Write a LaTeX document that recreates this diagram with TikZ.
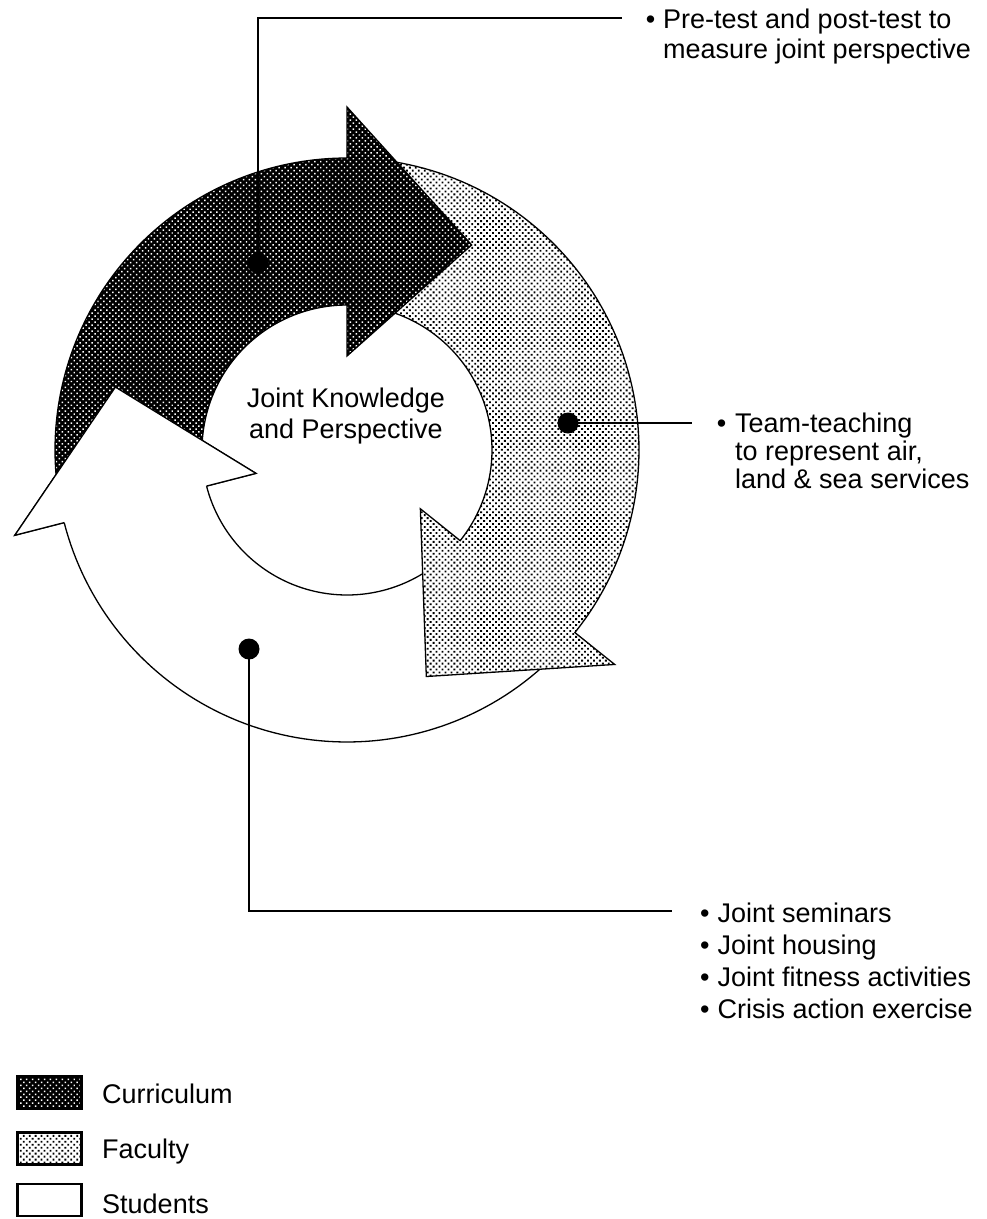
\documentclass[tikz,border=0pt]{standalone}
\usepackage{fontspec}
\setmainfont{Liberation Sans}
\usetikzlibrary{patterns.meta}
\tikzset{
  curpat/.style={preaction={fill=black}, pattern={Dots[distance=4.2bp,angle=45,radius=1.05bp]}, pattern color=white},
  facpat/.style={preaction={fill=white}, pattern={Dots[distance=4.2bp,angle=45,radius=1.3bp]}, pattern color=black},
  stupat/.style={fill=white},
  arrowline/.style={draw=black, line width=1.3bp, line join=miter},
  leader/.style={draw=black, line width=2.4bp},
  pinpoint/.style={circle, fill=black, inner sep=0pt, minimum size=21bp},
  legendbox/.style={draw=black, line width=2.6bp, minimum width=64bp, minimum height=32bp, inner sep=0pt},
  txt/.style={anchor=base west, inner sep=0pt},
}
\begin{document}
\begin{tikzpicture}[x=1bp,y=-1bp,font=\fontsize{27bp}{31bp}\selectfont]
\useasboundingbox (0,0) rectangle (987,1219);
\coordinate (C) at (347,450);
% Students arrow (white)
\path[stupat, arrowline]
  plot[domain=45:165.6,samples=80] ({347+292*cos(\x)},{450+292*sin(\x)})
  -- ({347+343*cos(165.6)},{450+343*sin(165.6)})
  -- ({347+240*cos(195.2)},{450+240*sin(195.2)})
  -- ({347+94*cos(165.6)},{450+94*sin(165.6)})
  -- plot[domain=165.6:45,samples=80] ({347+145*cos(\x)},{450+145*sin(\x)})
  -- cycle;
% Faculty arrow (light dots)
\path[facpat, arrowline]
  plot[domain=276:398.7,samples=80] ({347+292*cos(\x)},{450+292*sin(\x)})
  -- ({347+343*cos(398.7)},{450+343*sin(398.7)})
  -- ({347+240*cos(430.7)},{450+240*sin(430.7)})
  -- ({347+94*cos(398.7)},{450+94*sin(398.7)})
  -- plot[domain=398.7:276,samples=80] ({347+145*cos(\x)},{450+145*sin(\x)})
  -- cycle;
% Curriculum arrow (dark)
\path[curpat, arrowline]
  plot[domain=170:270,samples=80] ({347+292*cos(\x)},{450+292*sin(\x)})
  -- ({347+343*cos(270)},{450+343*sin(270)})
  -- ({347+240*cos(301.3)},{450+240*sin(301.3)})
  -- ({347+94*cos(270)},{450+94*sin(270)})
  -- plot[domain=270:170,samples=80] ({347+145*cos(\x)},{450+145*sin(\x)})
  -- cycle;
% Students head on top of curriculum tail
\fill[white] ({347+343*cos(165.6)},{450+343*sin(165.6)})
  -- ({347+240*cos(195.2)},{450+240*sin(195.2)})
  -- ({347+94*cos(165.6)},{450+94*sin(165.6)}) -- cycle;
\draw[arrowline] ({347+292*cos(165.6)},{450+292*sin(165.6)})
  -- ({347+343*cos(165.6)},{450+343*sin(165.6)})
  -- ({347+240*cos(195.2)},{450+240*sin(195.2)})
  -- ({347+94*cos(165.6)},{450+94*sin(165.6)})
  -- ({347+145*cos(165.6)},{450+145*sin(165.6)});
% centre text
\node[anchor=base, inner sep=0pt] (core) at (346,407)
  {\begin{tabular}[t]{@{}c@{}}Joint Knowledge\\and Perspective\end{tabular}};
% pins and leaders
\node[pinpoint] (pc) at (258,263) {};
\node[pinpoint] (pf) at (568,423) {};
\node[pinpoint] (ps) at (249,649) {};
\coordinate (ec) at (622,18);
\coordinate (ef) at (692,423);
\coordinate (es) at (672,911);
\draw[leader] (pc.center) |- (ec);
\draw[leader] (pf.center) -- (ef);
\draw[leader] (ps.center) |- (es);
% labels
\node[txt, font=\fontsize{27bp}{30bp}\selectfont] (lcur) at (663,28)
  {\begin{tabular}[t]{@{}l@{}}\llap{\textbullet\hspace{8bp}}Pre-test and post-test to\\measure joint perspective\end{tabular}};
\node[txt, font=\fontsize{27bp}{28bp}\selectfont] (lfac) at (735,432)
  {\begin{tabular}[t]{@{}l@{}}\llap{\textbullet\hspace{9bp}}Team-teaching\\to represent air,\\land \& sea services\end{tabular}};
\node[txt, font=\fontsize{27bp}{32bp}\selectfont] (lstu) at (700,922)
  {\begin{tabular}[t]{@{}l@{}}\textbullet\hspace{8bp}Joint seminars\\\textbullet\hspace{8bp}Joint housing\\\textbullet\hspace{8bp}Joint fitness activities\\\textbullet\hspace{8bp}Crisis action exercise\end{tabular}};
% legend
\node[legendbox, curpat] (kc) at (49.5,1092.5) {};
\node[legendbox, facpat] (kf) at (49.5,1148.5) {};
\node[legendbox, fill=white] (ks) at (49.5,1200) {};
\node[txt] (tc) at (102,1103) {Curriculum};
\node[txt] (tf) at (102,1158) {Faculty};
\node[txt] (ts) at (102,1213) {Students};
\end{tikzpicture}
\end{document}
